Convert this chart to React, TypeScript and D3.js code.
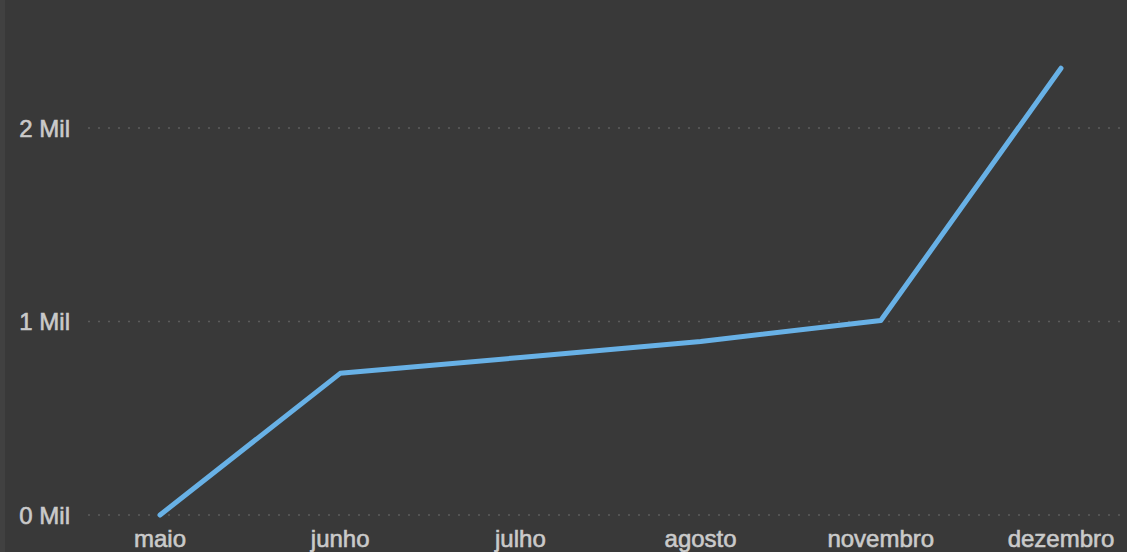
import React from "react";
import * as d3 from "d3";

const months = ["maio", "junho", "julho", "agosto", "novembro", "dezembro"];
const values = [0, 732, 814, 897, 1005, 2309];
const yTicks = [0, 1000, 2000];

const W = 1127;
const H = 552;

export default function App() {
  const x = d3.scalePoint<string>().domain(months).range([160, 1061]);
  const y = d3.scaleLinear().domain([0, 2000]).range([515, 128]);

  const line = d3
    .line<number>()
    .x((d, i) => x(months[i]) as number)
    .y((d) => y(d));

  const fmt = (v: number) => `${v / 1000} Mil`;

  return (
    <svg
      width={W}
      height={H}
      style={{ position: "absolute", left: 0, top: 0, display: "block" }}
      fontFamily="Arial, 'Liberation Sans', sans-serif"
    >
      <rect width={W} height={H} fill="#393939" />
      <rect width={5} height={H} fill="#414141" />

      {/* grid + y labels */}
      {yTicks.map((t) => (
        <g key={t}>
          <line
            x1={88}
            x2={W}
            y1={y(t)}
            y2={y(t)}
            stroke="#5c5c5c"
            strokeWidth={1.5}
            strokeDasharray="2,8"
          />
          <text
            x={70}
            y={y(t)}
            dy={8.5}
            textAnchor="end"
            fontSize={24}
            fill="#cacaca"
            stroke="#cacaca"
            strokeWidth={0.6}
          >
            {fmt(t)}
          </text>
        </g>
      ))}

      {/* x labels */}
      {months.map((m) => (
        <text
          key={m}
          x={x(m)}
          y={547}
          textAnchor="middle"
          fontSize={24}
          fill="#cacaca"
          stroke="#cacaca"
          strokeWidth={0.6}
        >
          {m}
        </text>
      ))}

      <path
        d={line(values) || ""}
        fill="none"
        stroke="#68b1e6"
        strokeWidth={5}
        strokeLinecap="round"
        strokeLinejoin="round"
      />
    </svg>
  );
}
